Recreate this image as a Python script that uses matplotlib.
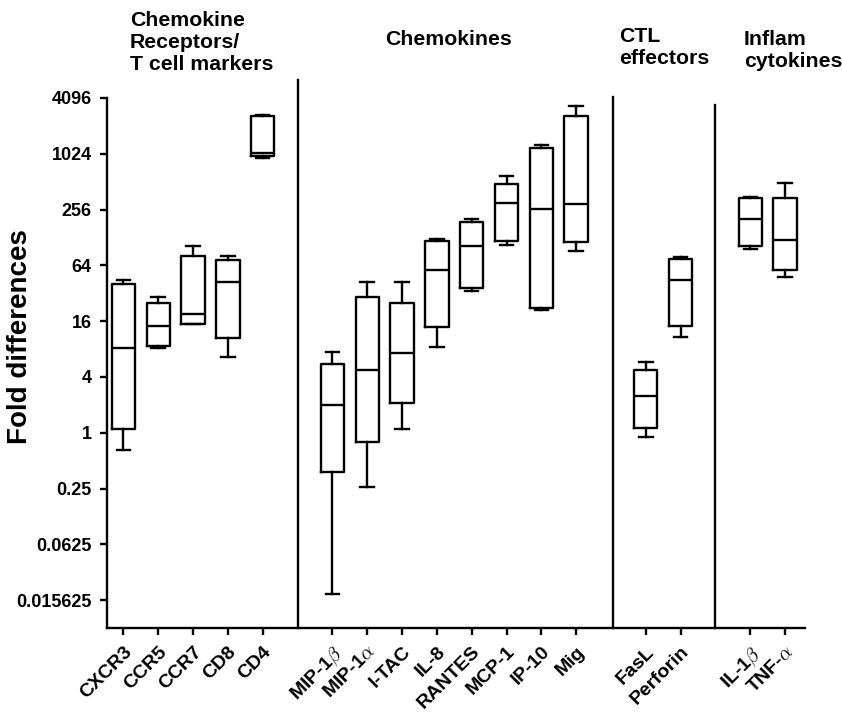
import matplotlib
matplotlib.use("Agg")
import matplotlib.pyplot as plt
import matplotlib.transforms as mtransforms

plt.rcParams["font.family"] = ["Liberation Sans", "DejaVu Sans"]
plt.rcParams["font.weight"] = "bold"
plt.rcParams["mathtext.fontset"] = "cm"

# ── data (fold differences) ─────────────────────────────────────────────────
GROUP_TITLES = ["Chemokine\nReceptors/\nT cell markers", "Chemokines",
                "CTL\neffectors", "Inflam\ncytokines"]
GROUP_SIZES = [5, 8, 2, 2]

GENES = ["CXCR3", "CCR5", "CCR7", "CD8", "CD4",
         r"MIP-1$\beta$", r"MIP-1$\alpha$", "I-TAC", "IL-8", "RANTES",
         "MCP-1", "IP-10", "Mig",
         "FasL", "Perforin",
         r"IL-1$\beta$", r"TNF-$\alpha$"]

WHIS_HI = [44.7, 29.1, 104, 80.6, 2670,
           7.5, 42.7, 42.7, 123, 204, 583, 1267, 3338,
           5.8, 78.8,
           352, 498]
Q3 = [40.5, 25.1, 81.3, 73.6, 2590,
      5.5, 29.0, 25.4, 118, 186, 486, 1186, 2620,
      4.78, 75,
      338, 338]
MEDIAN = [8.2, 14.1, 18.9, 42.2, 1055,
          2.0, 4.75, 7.2, 57.1, 104, 301, 259, 293,
          2.47, 44.6,
          204, 119]
Q1 = [1.10, 8.6, 15.0, 10.4, 968,
      0.375, 0.80, 2.09, 14.0, 36.5, 117, 22.1, 113,
      1.12, 14.1,
      104, 57]
WHIS_LO = [0.65, 8.3, 14.8, 6.6, 928,
           0.0184, 0.26, 1.11, 8.5, 34.2, 105, 21.2, 92,
           0.90, 10.9,
           97, 48.4]

YTICK_LABELS = ["0.015625", "0.0625", "0.25", "1", "4", "16",
                "64", "256", "1024", "4096"]


def main():
    W, H = 842, 714
    fig = plt.figure(figsize=(W / 100, H / 100), dpi=100)
    fig.patch.set_facecolor("white")

    # axes box in pixel terms: left spine x=107, right end x=805, top 98, bottom 628
    ax = fig.add_axes([107 / W, 1 - 628 / H, (805 - 107) / W, (628 - 98) / H])

    # category positions: one empty slot between groups
    positions, start = [], 0
    for n in GROUP_SIZES:
        positions += list(range(start, start + n))
        start += n + 1

    stats = [dict(med=m, q1=a, q3=b, whislo=lo, whishi=hi, fliers=[])
             for m, a, b, lo, hi in zip(MEDIAN, Q1, Q3, WHIS_LO, WHIS_HI)]
    lw = 1.7
    line = dict(color="black", linewidth=lw)
    ax.bxp(stats, positions=positions, widths=0.67, capwidths=0.39,
           showfliers=False, boxprops=line, whiskerprops=line,
           capprops=line, medianprops=line)

    ax.set_yscale("log", base=2)
    ax.set_ylim(2 ** -7, 2 ** 12)
    ax.set_xlim(-0.47, 19.57)

    yticks = [2.0 ** k for k in range(-6, 13, 2)]
    ax.set_yticks(yticks)
    ax.set_yticklabels(YTICK_LABELS)
    ax.yaxis.set_minor_locator(matplotlib.ticker.NullLocator())

    ax.set_xticks(positions)
    ax.set_xticklabels(GENES, rotation=45, ha="right", va="top",
                       rotation_mode="anchor", fontsize=14)
    shift = mtransforms.ScaledTranslation(6 / 100, 0, fig.dpi_scale_trans)
    for lab in ax.get_xticklabels():
        lab.set_transform(lab.get_transform() + shift)

    for side in ("top", "right"):
        ax.spines[side].set_visible(False)
    for side in ("left", "bottom"):
        ax.spines[side].set_linewidth(lw)
    ax.tick_params(axis="both", direction="out", length=5, width=lw)
    ax.tick_params(axis="y", pad=6, labelsize=13)
    ax.tick_params(axis="x", pad=6)

    # group separators (they run above the axes top)
    for x, top in [(5.0, 2 ** 12.65), (14.05, 2 ** 12.04), (17.0, 2 ** 11.74)]:
        ax.plot([x, x], [2 ** -7, top], color="black", lw=lw, clip_on=False)

    # group titles (left x, cap-top y in pixels)
    for title, (px, py) in zip(GROUP_TITLES,
                               [(130, 11), (385, 30), (619, 27), (744, 30)]):
        fig.text(px / W, 1 - py / H, title, ha="left", va="top",
                 fontsize=15.3, fontweight="bold")

    fig.text(20 / W, 1 - 337 / H, "Fold differences", rotation=90,
             ha="center", va="center", fontsize=20, fontweight="bold")

    fig.savefig("out.png", dpi=100, facecolor="white")
    plt.close(fig)


if __name__ == "__main__":
    main()
